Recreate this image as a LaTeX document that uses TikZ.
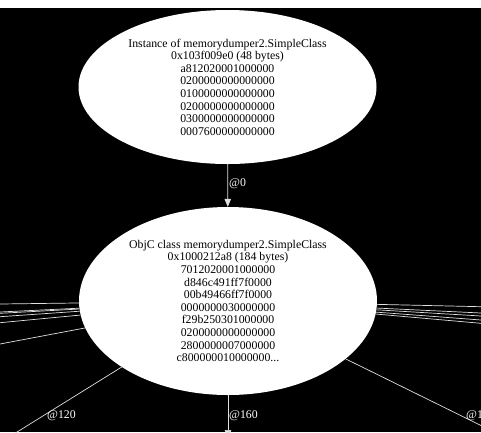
\documentclass[tikz,border=0pt]{standalone}
\usepackage{fontspec}
\setmainfont{Liberation Serif}
\usetikzlibrary{arrows.meta,shapes.geometric}

\begin{document}
\begin{tikzpicture}[x=1pt,y=-1pt,
  blob/.style={ellipse, fill=white, inner sep=0pt, minimum width=298pt, align=center,
    font=\fontsize{11.8}{12.6}\selectfont},
  lbl/.style={text=white, anchor=west, inner sep=0pt, font=\fontsize{11.8}{12.6}\selectfont},
  ptr/.style={draw=white!88!black, line width=0.7pt, -{Triangle[length=8pt,width=6.5pt]}}]
% Canvas
\useasboundingbox (0,0) rectangle (481,432);
\fill[white] (0,0) rectangle (481,8);
\fill[black] (0,8) rectangle (481,432);
\clip (0,0) rectangle (481,432);

% Objects
\node[blob, minimum height=154pt] (inst) at (227.5,87) {Instance of memorydumper2.SimpleClass\\
  0x103f009e0 (48 bytes)\\a812020001000000\\0200000000000000\\0100000000000000\\
  0200000000000000\\0300000000000000\\0007600000000000};
\node[blob, minimum height=188pt] (cls) at (228,301) {ObjC class memorydumper2.SimpleClass\\
  0x1000212a8 (184 bytes)\\7012020001000000\\d846c491ff7f0000\\00b49466ff7f0000\\
  0000000030000000\\f29b250301000000\\0200000000000000\\2800000007000000\\
  c800000010000000...};

% Pointers
\draw[ptr] (inst) -- (cls);
\node[lbl] (l0) at (229,184) {@0};

\coordinate (down) at (228,438);
\draw[ptr] (cls) -- (down);
\node[lbl] (l160) at (229,416) {@160};

\coordinate (sw) at (-28,460);
\draw[ptr] (cls) -- (sw);
\node[lbl] (l120) at (47,416) {@120};

\coordinate (se) at (734,550);
\draw[ptr] (cls) -- (se);
\node[lbl] (l1) at (466,416) {@1};

% Pointers leaving the view
\foreach \y [count=\i] in {307,323,325.6,332.4,344.4,387} {
  \coordinate (w\i) at (-228,\y);
  \draw[ptr] (cls) -- (w\i);
}
\foreach \y [count=\i] in {312.4,325,331,339,345.6} {
  \coordinate (e\i) at (734,\y);
  \draw[ptr] (cls) -- (e\i);
}
\end{tikzpicture}
\end{document}
